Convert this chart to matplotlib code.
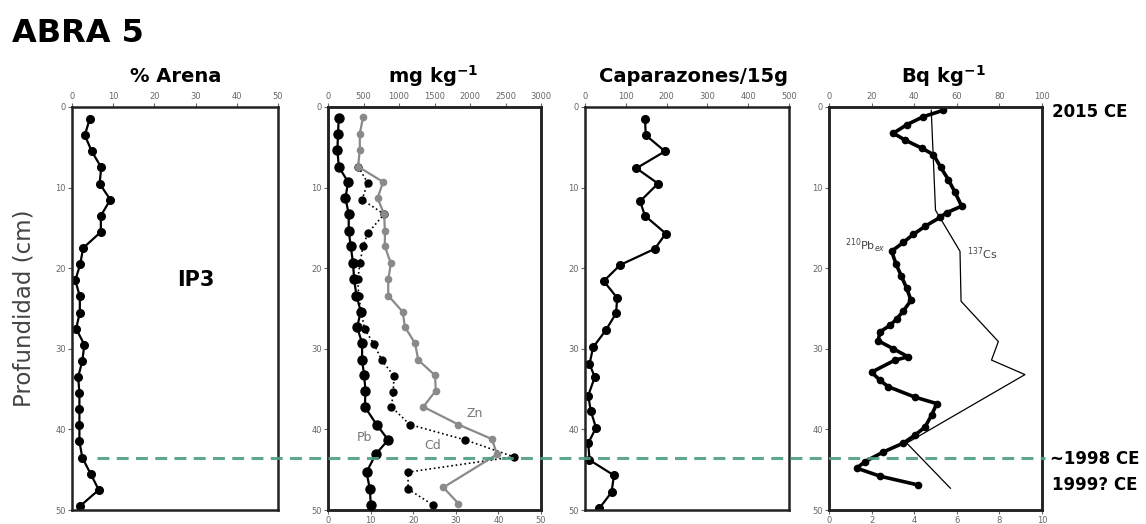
import matplotlib
matplotlib.use("Agg")
import matplotlib.pyplot as plt
import matplotlib.transforms as mtransforms
from matplotlib.lines import Line2D

# ---------------- data ----------------
arena_depth = [1.5, 3.5, 5.5, 7.5, 9.5, 11.5, 13.5, 15.5, 17.5, 19.5, 21.5, 23.5, 25.5,
               27.5, 29.5, 31.5, 33.5, 35.5, 37.5, 39.5, 41.5, 43.5, 45.5, 47.5, 49.5]
arena_pct = [4.3, 3.1, 4.8, 7.1, 6.7, 9.3, 7.0, 7.0, 2.7, 2.0, 0.8, 1.9, 1.9,
             1.0, 3.0, 2.5, 1.5, 1.8, 1.8, 1.8, 1.8, 2.5, 4.5, 6.5, 2.0]

pb_depth = [1.4, 3.3, 5.3, 7.4, 9.3, 11.3, 13.3, 15.4, 17.3, 19.4, 21.4, 23.4, 25.4,
            27.3, 29.3, 31.4, 33.3, 35.2, 37.2, 39.4, 41.3, 43.1, 45.3, 47.4, 49.4]
pb_mgkg = [151, 141, 133, 151, 283, 246, 292, 292, 321, 353, 368, 401, 462,
           410, 480, 480, 509, 528, 519, 684, 848, 670, 543, 589, 603]

zn_depth = [1.2, 3.3, 5.3, 7.4, 9.3, 11.3, 13.3, 15.4, 17.3, 19.4, 21.4, 23.4, 25.4,
            27.3, 29.3, 31.4, 33.3, 35.2, 37.2, 39.4, 41.2, 43.1, 47.2, 49.2]
zn_mgkg = [495, 448, 448, 424, 777, 698, 791, 801, 801, 886, 848, 848, 1051,
           1084, 1225, 1272, 1508, 1518, 1342, 1837, 2309, 2380, 1625, 1837]

cd_depth = [7.4, 9.4, 11.5, 13.3, 15.6, 17.3, 19.4, 21.4, 23.4, 25.4, 27.6, 29.4,
            31.4, 33.4, 35.4, 37.2, 39.4, 41.3, 43.4, 45.3, 47.4, 49.4]
cd_mgkg = [7.1, 9.3, 8.0, 13.2, 9.4, 8.2, 7.5, 7.0, 7.2, 7.8, 8.6, 10.8,
           12.6, 15.5, 15.3, 14.9, 19.2, 32.2, 43.6, 18.8, 18.8, 24.7]

cap_depth = [1.5, 3.5, 5.5, 7.6, 9.5, 11.7, 13.5, 15.7, 17.6, 19.6, 21.6, 23.7, 25.6,
             27.7, 29.8, 31.9, 33.5, 35.8, 37.7, 39.8, 41.7, 43.8, 45.7, 47.8, 49.8]
cap_count = [147, 149, 196, 126, 179, 135, 147, 198, 171, 86, 46, 79, 76,
             51, 20, 11, 24, 8, 14, 27, 8, 11, 71, 65, 35]

pb210_depth = [0.4, 1.2, 2.2, 3.25, 4.1, 5.1, 5.9, 7.5, 9.0, 10.5, 12.3, 13.1, 13.7, 14.8,
               15.8, 16.8, 17.9, 19.5, 21.0, 22.5, 24.0, 25.3, 26.3, 27.1, 27.9, 29.0,
               30.0, 31.0, 31.4, 32.9, 33.9, 34.7, 36.0, 36.8, 38.2, 39.7, 40.7, 41.7,
               42.8, 44.0, 44.8, 45.8, 46.9]
pb210_bq = [53.7, 44.3, 36.5, 30.2, 35.7, 43.5, 49.0, 52.5, 56.0, 59.0, 62.3, 55.3, 52.1, 45.1,
            39.6, 34.9, 29.4, 31.5, 34.0, 36.5, 38.5, 34.9, 31.8, 28.6, 23.9, 23.1,
            30.2, 37.2, 31.0, 20.0, 23.9, 27.8, 40.4, 50.6, 48.2, 45.1, 40.4, 34.9,
            25.5, 16.9, 13.0, 23.9, 41.9]

cs137_depth = [0.4, 12.8, 17.9, 24.1, 29.1, 31.4, 33.2, 41.7, 47.3]
cs137_bq = [4.8, 5.0, 6.15, 6.2, 7.95, 7.63, 9.2, 3.65, 5.7]

marker_depth = 43.5

arena_ticks = [0, 10, 20, 30, 40, 50]
metal_top_ticks = [0, 500, 1000, 1500, 2000, 2500, 3000]
metal_bot_ticks = [0, 10, 20, 30, 40, 50]
cap_ticks = [0, 100, 200, 300, 400, 500]
bq_top_ticks = [0, 20, 40, 60, 80, 100]
bq_bot_ticks = [0, 2, 4, 6, 8, 10]
depth_ticks = [0, 10, 20, 30, 40, 50]

# ---------------- figure ----------------
plt.rcParams['font.family'] = ['DejaVu Sans']
fig = plt.figure(figsize=(11.46, 5.24), dpi=100)

bottom = 1 - 510 / 524
height = (510 - 107) / 524
def px(l, r):
    return [l / 1146, bottom, (r - l) / 1146, height]

tick_col = '#666666'
frame_col = '#222222'

def style(ax, bottomlab=False):
    ax.set_ylim(50, 0)
    ax.set_yticks(depth_ticks)
    for s in ax.spines.values():
        s.set_linewidth(1.8)
        s.set_color(frame_col)
    ax.tick_params(axis='both', labelsize=6, colors=tick_col, length=3, width=0.8,
                   direction='out', pad=1.5)
    ax.tick_params(axis='y', left=True, labelleft=True)
    if not bottomlab:
        ax.tick_params(axis='x', bottom=False, labelbottom=False)

def style_top(axt):
    axt.tick_params(axis='x', labelsize=6, colors=tick_col, length=3, width=0.8, pad=1.5)
    for s in axt.spines.values():
        s.set_linewidth(1.8)
        s.set_color(frame_col)

# Panel 1: % Arena
ax1 = fig.add_axes(px(72, 278))
ax1.plot(arena_pct, arena_depth, '-o', color='black', lw=1.6, ms=5.5)
ax1.set_xlim(0, 50)
ax1.xaxis.set_ticks_position('top')
ax1.set_xticks(arena_ticks)
style(ax1)
ax1.tick_params(axis='x', top=True, labeltop=True)
ax1.text(0.6, 0.57, 'IP3', transform=ax1.transAxes, fontsize=15, fontweight='bold',
         ha='center', va='center')
ax1.set_ylabel('Profundidad (cm)', fontsize=16.5, color='#444444', labelpad=14)

# Panel 2: metals
ax2 = fig.add_axes(px(328, 541))
ax2.set_xlim(0, 50)
ax2.set_xticks(metal_bot_ticks)
style(ax2, bottomlab=True)
ax2t = ax2.twiny()
ax2t.set_xlim(0, 3000)
ax2t.set_xticks(metal_top_ticks)
style_top(ax2t)
ax2.plot(cd_mgkg, cd_depth, ':o', color='black', lw=1.2, ms=5, zorder=2)
ax2t.plot(zn_mgkg, zn_depth, '-o', color='#8a8a8a', lw=1.6, ms=4.5, zorder=3)
ax2t.plot(pb_mgkg, pb_depth, '-o', color='black', lw=1.6, ms=6.5, zorder=4)
ax2.text(0.17, 0.18, 'Pb', transform=ax2.transAxes, fontsize=9, color='#777777',
         ha='center', va='center')
ax2.text(0.49, 0.16, 'Cd', transform=ax2.transAxes, fontsize=9, color='#777777',
         ha='center', va='center')
ax2.text(0.69, 0.24, 'Zn', transform=ax2.transAxes, fontsize=9, color='#777777',
         ha='center', va='center')

# Panel 3: Caparazones
ax3 = fig.add_axes(px(585, 789))
ax3.plot(cap_count, cap_depth, '-o', color='black', lw=1.6, ms=5.5)
ax3.set_xlim(0, 500)
ax3.xaxis.set_ticks_position('top')
ax3.set_xticks(cap_ticks)
style(ax3)
ax3.tick_params(axis='x', top=True, labeltop=True)

# Panel 4: radionuclides
ax4 = fig.add_axes(px(829, 1042))
ax4.set_xlim(0, 10)
ax4.set_xticks(bq_bot_ticks)
style(ax4, bottomlab=True)
ax4.plot(cs137_bq, cs137_depth, '-', color='black', lw=0.9)
ax4t = ax4.twiny()
ax4t.set_xlim(0, 100)
ax4t.set_xticks(bq_top_ticks)
style_top(ax4t)
ax4t.plot(pb210_bq, pb210_depth, '-o', color='black', lw=2.6, ms=4.5)
ax4.text(0.17, 0.655, r'$^{210}$Pb$_{ex}$', transform=ax4.transAxes, fontsize=8,
         color='#444444', ha='center', va='center')
ax4.text(0.72, 0.635, r'$^{137}$Cs', transform=ax4.transAxes, fontsize=8,
         color='#444444', ha='center', va='center')

# Dashed marker line across panels
trans = mtransforms.blended_transform_factory(fig.transFigure, ax1.transData)
fig.add_artist(Line2D([97 / 1146, 1045 / 1146], [marker_depth, marker_depth],
                      transform=trans, color='#4d9f80', lw=2.2, ls=(0, (3.9, 2.4)),
                      alpha=0.9, zorder=10))

# Titles
fig.text(12 / 1146, 1 - 34 / 524, 'ABRA 5', fontsize=23, fontweight='bold',
         ha='left', va='center')
for xc, t in [(176, '% Arena'), (433, r'mg kg$^{\mathbf{-1}}$'),
              (694, 'Caparazones/15g'), (943, r'Bq kg$^{\mathbf{-1}}$')]:
    fig.text(xc / 1146, 1 - 76 / 524, t, fontsize=14, fontweight='bold',
             ha='center', va='center')

fig.text(1052 / 1146, 1 - 112 / 524, '2015 CE', fontsize=12, fontweight='bold',
         ha='left', va='center')
fig.text(1050 / 1146, 1 - 459 / 524, '~1998 CE', fontsize=12, fontweight='bold',
         ha='left', va='center')
fig.text(1052 / 1146, 1 - 485 / 524, '1999? CE', fontsize=12, fontweight='bold',
         ha='left', va='center')

fig.savefig('out.png', dpi=100)
